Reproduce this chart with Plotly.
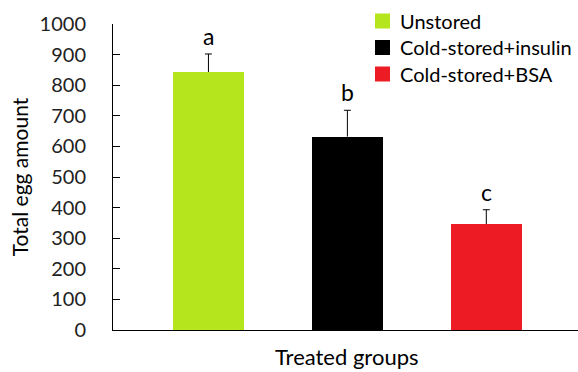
import plotly.graph_objects as go

groups = ["Unstored", "Cold-stored+insulin", "Cold-stored+BSA"]
means = [843, 632, 346]
errors = [59, 86, 47]
letters = ["a", "b", "c"]
colors = ["#b5e61d", "#000000", "#ed1c24"]

FONT = "Lato, Open Sans, sans-serif"

fig = go.Figure()
for i, (g, m, c) in enumerate(zip(groups, means, colors)):
    fig.add_trace(go.Bar(
        x=[i], y=[m], name=g, width=0.51, showlegend=False,
        marker=dict(color=c, line=dict(width=0)),
    ))

# upper error whiskers with a small cap at the top end
for i, (m, e) in enumerate(zip(means, errors)):
    fig.add_trace(go.Scatter(
        x=[i, i], y=[m, m + e], mode="lines", showlegend=False,
        line=dict(color="#000000", width=1), hoverinfo="skip",
    ))
    fig.add_trace(go.Scatter(
        x=[i], y=[m + e], mode="markers", showlegend=False,
        marker=dict(symbol="line-ew", size=5, line=dict(color="#000000", width=1)),
        hoverinfo="skip",
    ))
    fig.add_annotation(x=i, y=m + e, text=letters[i], showarrow=False,
                       yanchor="bottom", yshift=2,
                       font=dict(family=FONT, size=23, color="#000000"))

# legend: colour squares with group names, top right
W, H = 578, 372
ML, MR, MT, MB = 113, 0, 24, 42
pw, ph = W - ML - MR, H - MT - MB
def px_x(x):
    return (x - ML) / pw
def px_y(y):
    return (H - MB - y) / ph

row_y = [21, 47.5, 74]
for g, c, yc in zip(groups, colors, row_y):
    fig.add_shape(type="rect", xref="paper", yref="paper",
                  x0=px_x(375), x1=px_x(390), y0=px_y(yc + 7.5), y1=px_y(yc - 7.5),
                  fillcolor=c, line=dict(width=0))
    fig.add_annotation(xref="paper", yref="paper", x=px_x(398), y=px_y(yc),
                       text=g, showarrow=False, xanchor="left", yanchor="middle",
                       font=dict(family=FONT, size=20, color="#000000"))

# x-axis title below the baseline
fig.add_annotation(xref="paper", yref="paper", x=px_x(347), y=px_y(356),
                   text="Treated groups", showarrow=False,
                   xanchor="center", yanchor="middle",
                   font=dict(family=FONT, size=22, color="#000000"))

fig.update_layout(
    width=W, height=H,
    margin=dict(l=ML, r=MR, t=MT, b=MB),
    plot_bgcolor="white", paper_bgcolor="white",
    showlegend=False,
    bargap=0,
    font=dict(family=FONT, color="#000000"),
)
fig.update_xaxes(range=[-0.687, 2.66], showticklabels=False, ticks="",
                 showline=True, linecolor="#000000", linewidth=1,
                 showgrid=False, zeroline=False, automargin=False)
fig.update_yaxes(range=[0, 1000], dtick=100, tick0=0, ticks="inside", ticklen=7,
                 tickcolor="#000000", showline=True, linecolor="#000000", linewidth=1,
                 showgrid=False, zeroline=False, ticklabelstandoff=22, automargin=False,
                 tickfont=dict(family=FONT, size=20, color="#222222"),
                 title=dict(text="Total egg amount", font=dict(family=FONT, size=21),
                            standoff=5))

fig.write_html("out.html")
